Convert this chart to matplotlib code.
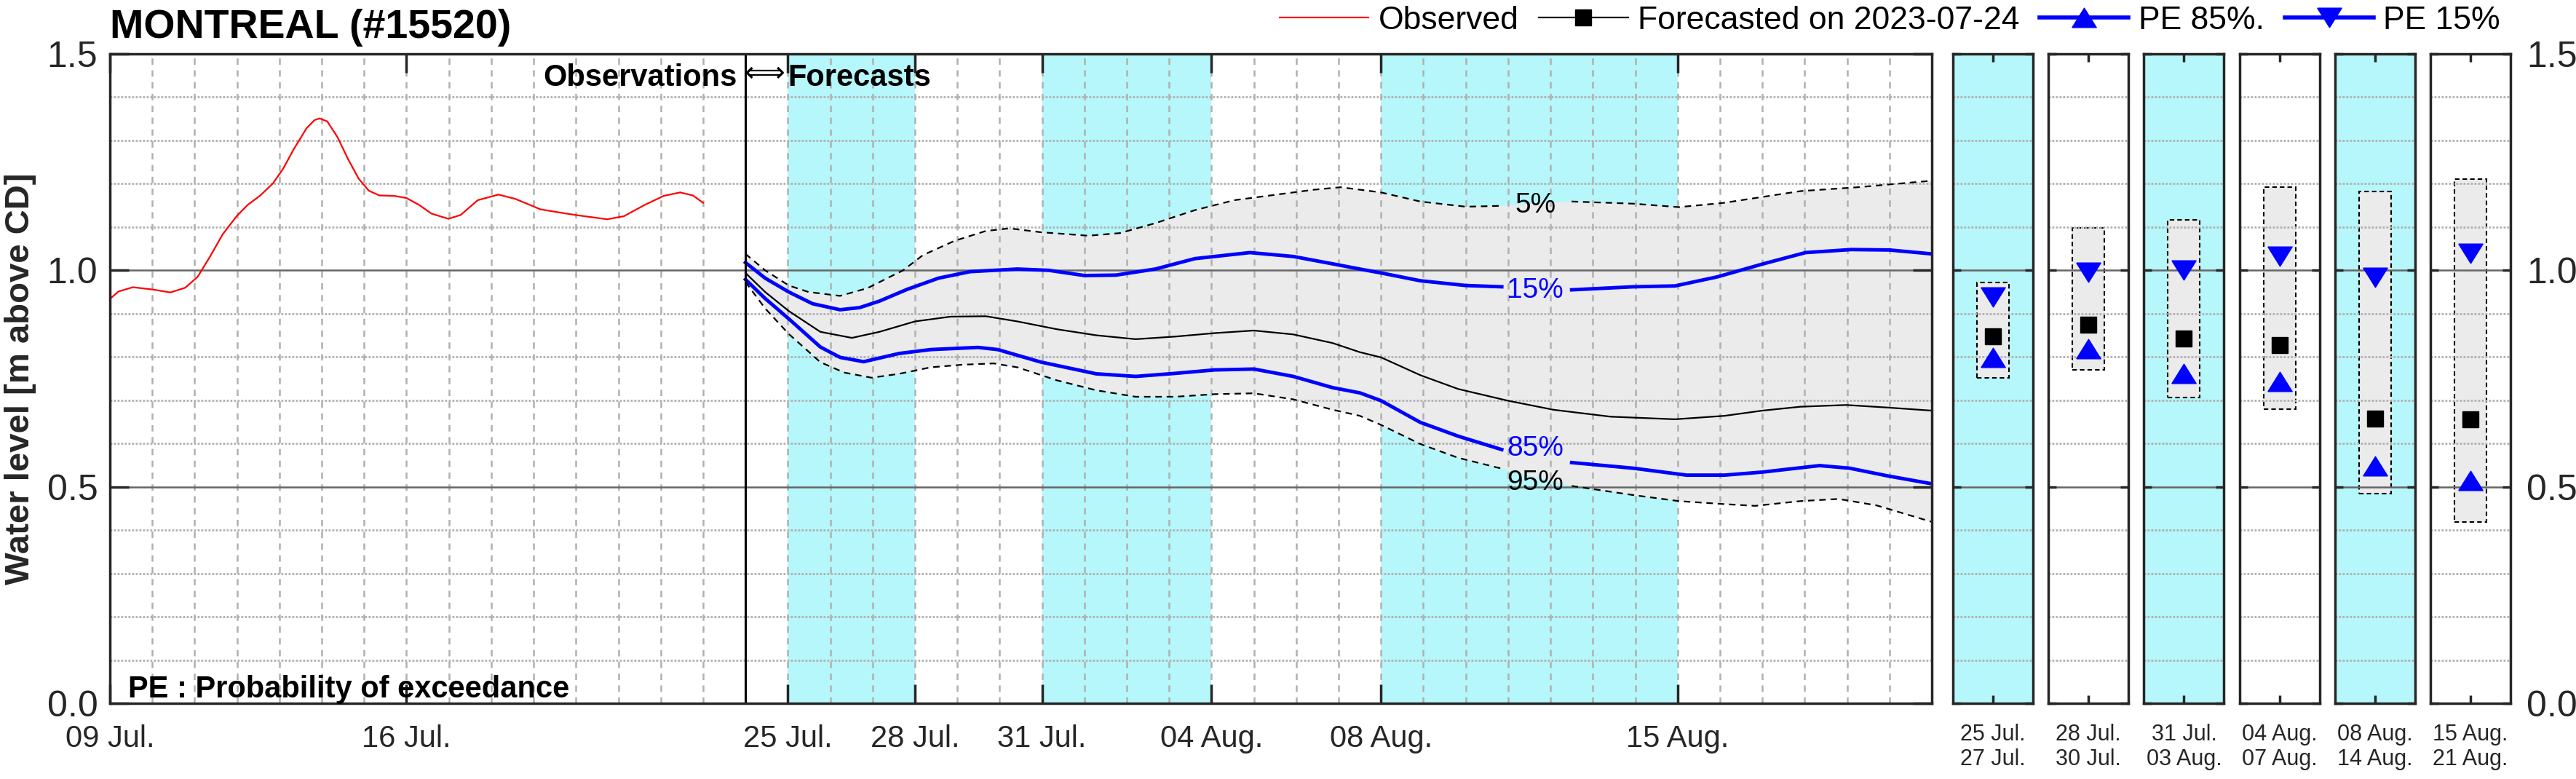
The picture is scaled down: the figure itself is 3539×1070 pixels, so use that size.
import numpy as np
import matplotlib
matplotlib.use('Agg')
import matplotlib.pyplot as plt
from matplotlib.lines import Line2D
from matplotlib.path import Path
from matplotlib.ticker import MultipleLocator, FixedLocator

plt.rcParams['font.family'] = ['Liberation Sans', 'DejaVu Sans']

# ---- data ----
start_date = '2023-07-09'
forecast_date = '2023-07-24'
end_date = '2023-08-21'

# observed water level, days after 09 Jul.
obs_day = [0, 0.2, 0.54, 0.99, 1.43, 1.78, 2.07, 2.37, 2.66, 2.99, 3.25, 3.55, 3.85, 4.09,
           4.34, 4.64, 4.83, 4.95, 5.13, 5.37, 5.62, 5.87, 6.11, 6.36, 6.71, 7.0, 7.30, 7.59,
           7.99, 8.28, 8.68, 9.17, 9.57, 10.16, 10.65, 11.05, 11.74, 12.13, 12.62, 13.07,
           13.46, 13.76, 14.0]
obs_val = [0.934, 0.951, 0.961, 0.956, 0.949, 0.960, 0.985, 1.033, 1.083, 1.125, 1.151, 1.173,
           1.201, 1.235, 1.280, 1.328, 1.347, 1.351, 1.344, 1.308, 1.257, 1.212, 1.184, 1.173,
           1.172, 1.167, 1.151, 1.131, 1.119, 1.128, 1.162, 1.175, 1.165, 1.141, 1.133, 1.127,
           1.118, 1.125, 1.151, 1.172, 1.180, 1.173, 1.156]

# forecast percentiles, days after 24 Jul.
f5 = [0, 0.465, 1.023, 1.488, 2.233, 2.884, 3.349, 3.721, 4.186, 4.930, 5.674, 6.233, 6.977,
      8.093, 8.837, 9.674, 10.605, 11.535, 12.465, 13.395, 14.047, 15.0, 15.925, 17.0, 17.85,
      19.5, 20.95, 22.03, 23.1, 24.9, 26.25, 28.0]
v5 = [1.038, 1.000, 0.965, 0.950, 0.941, 0.959, 0.982, 1.000, 1.035, 1.068, 1.091, 1.097, 1.088,
      1.080, 1.086, 1.109, 1.139, 1.162, 1.174, 1.186, 1.192, 1.180, 1.159, 1.147, 1.149,
      1.159, 1.154, 1.146, 1.156, 1.183, 1.192, 1.207]

f15 = [0, 0.465, 1.023, 1.581, 2.233, 2.698, 3.163, 3.814, 4.558, 5.302, 6.419, 7.163, 8.0,
       8.744, 9.674, 10.605, 11.907, 12.93, 13.86, 14.5, 15.0, 15.925, 17.0, 17.85, 19.5,
       20.95, 21.94, 22.94, 24.02, 25.02, 26.1, 27.0, 28.0]
v15 = [1.018, 0.982, 0.950, 0.923, 0.909, 0.914, 0.929, 0.956, 0.982, 0.997, 1.003, 1.000, 0.988,
       0.989, 1.003, 1.027, 1.041, 1.032, 1.015, 1.003, 0.994, 0.976, 0.965, 0.962, 0.955,
       0.962, 0.964, 0.985, 1.015, 1.041, 1.048, 1.047, 1.038]

f50 = [0, 0.465, 1.023, 1.767, 2.512, 3.163, 4.0, 4.837, 5.674, 6.419, 7.349, 8.279, 9.209,
       10.14, 11.07, 12.0, 12.93, 13.86, 14.5, 15.0, 15.925, 16.82, 17.99, 19.07, 20.42,
       21.94, 23.11, 24.0, 24.9, 25.98, 26.97, 28.0]
v50 = [0.994, 0.950, 0.906, 0.858, 0.844, 0.858, 0.882, 0.893, 0.894, 0.882, 0.864, 0.850, 0.841,
       0.847, 0.855, 0.861, 0.852, 0.832, 0.811, 0.799, 0.758, 0.726, 0.699, 0.678, 0.662,
       0.656, 0.664, 0.676, 0.685, 0.689, 0.683, 0.676]

f85 = [0, 0.465, 1.023, 1.767, 2.233, 2.791, 3.628, 4.372, 5.488, 5.953, 6.977, 8.279, 9.209,
       10.14, 11.07, 12.0, 12.93, 13.86, 14.5, 15.0, 15.925, 16.82, 17.85, 19.5, 20.95, 22.21,
       23.11, 24.0, 25.35, 26.06, 26.97, 28.0]
v85 = [0.979, 0.935, 0.888, 0.823, 0.799, 0.789, 0.808, 0.817, 0.822, 0.817, 0.788, 0.761, 0.755,
       0.762, 0.770, 0.772, 0.755, 0.729, 0.717, 0.699, 0.649, 0.617, 0.586, 0.556, 0.543, 0.527,
       0.527, 0.534, 0.549, 0.543, 0.525, 0.507]

f95 = [0, 0.465, 1.023, 1.767, 2.326, 2.977, 3.628, 4.372, 5.116, 5.860, 6.419, 7.349, 8.279,
       9.209, 10.14, 11.07, 12.0, 12.93, 13.86, 14.5, 15.0, 15.925, 16.82, 17.85, 19.5, 20.95,
       22.03, 23.11, 23.83, 24.9, 25.8, 26.7, 28.0]
v95 = [0.973, 0.912, 0.853, 0.788, 0.764, 0.752, 0.761, 0.776, 0.782, 0.785, 0.776, 0.746, 0.723,
       0.708, 0.708, 0.714, 0.716, 0.702, 0.678, 0.664, 0.643, 0.599, 0.567, 0.542, 0.502, 0.481,
       0.467, 0.460, 0.456, 0.467, 0.472, 0.457, 0.419]

# contour-style labels (forecast day, value) and the gap they cut in the lines
pct_labels = ['5%', '15%', '85%', '95%']
pct_label_day = [18.64, 18.64, 18.64, 18.64]
pct_label_val = [1.150, 0.953, 0.588, 0.510]
label_gap = (17.85, 19.5)

tick_dates = ['2023-07-09', '2023-07-16', '2023-07-25', '2023-07-28', '2023-07-31',
              '2023-08-04', '2023-08-08', '2023-08-15']
tick_labels = ['09 Jul.', '16 Jul.', '25 Jul.', '28 Jul.', '31 Jul.', '04 Aug.', '08 Aug.', '15 Aug.']
band_dates = [('2023-07-25', '2023-07-28'), ('2023-07-31', '2023-08-04'), ('2023-08-08', '2023-08-15')]

# weekly summary panels
panel_labels = ['25 Jul.\n27 Jul.', '28 Jul.\n30 Jul.', '31 Jul.\n03 Aug.',
                '04 Aug.\n07 Aug.', '08 Aug.\n14 Aug.', '15 Aug.\n21 Aug.']
panel_p5 = [0.972, 1.098, 1.116, 1.192, 1.182, 1.211]
panel_p15 = [0.939, 0.995, 1.001, 1.033, 0.983, 1.040]
panel_p50 = [0.848, 0.874, 0.843, 0.828, 0.658, 0.656]
panel_p85 = [0.798, 0.819, 0.762, 0.743, 0.548, 0.515]
panel_p95 = [0.752, 0.770, 0.707, 0.680, 0.484, 0.419]
panel_shaded = [True, False, True, False, True, False]

# ---- helpers ----
t0 = np.datetime64(start_date, 'D')
def day(d):
    return float((np.datetime64(d, 'D') - t0).astype(int))

fc0 = day(forecast_date)
CYAN = '#b5f7fa'
GRAY = '#ebebeb'
GRID = '#b0b0b0'
DARK = '#262626'

up_tri = Path([(-1, -0.8), (1, -0.8), (0, 0.8), (-1, -0.8)])
down_tri = Path([(-1, 0.8), (1, 0.8), (0, -0.8), (-1, 0.8)])

W, H = 3539, 1070
fig = plt.figure(figsize=(W / 100, H / 100), dpi=100)
ax_bottom = 1 - 966 / H
ax_height = 892 / H


def style_grid(a, xgrid=True):
    a.yaxis.set_minor_locator(MultipleLocator(0.1))
    a.yaxis.grid(True, which='minor', color=GRID, lw=2, ls=(0, (1.0, 0.8)), zorder=0.5)
    a.yaxis.grid(True, which='major', color='#666666', lw=1.8, ls='-', zorder=0.5)
    if xgrid:
        a.xaxis.set_minor_locator(MultipleLocator(1))
        a.xaxis.grid(True, which='both', color=GRID, lw=1.8, ls=(0, (3.5, 3)), zorder=0.5)
    a.set_axisbelow(True)
    for s in a.spines.values():
        s.set_linewidth(2.5)
        s.set_color(DARK)
        s.set_zorder(5)


# ---- main axes ----
ax = fig.add_axes([151 / W, ax_bottom, 2503 / W, ax_height])
ax.set_xlim(0, day(end_date))
ax.set_ylim(0, 1.5)

for a0, a1 in band_dates:
    ax.axvspan(day(a0), day(a1), color=CYAN, lw=0, zorder=0.1)

x5 = fc0 + np.array(f5)
x95 = fc0 + np.array(f95)
ax.fill(np.concatenate([x5, x95[::-1]]), np.concatenate([v5, v95[::-1]]),
        color=GRAY, lw=0, zorder=0.2)

ax.plot(obs_day, obs_val, color='red', lw=1.6, zorder=3)


def plot_gapped(f, v, **kw):
    f = np.array(f)
    v = np.array(v)
    left = f <= label_gap[0]
    right = f >= label_gap[1]
    ax.plot(fc0 + f[left], v[left], **kw)
    ax.plot(fc0 + f[right], v[right], **kw)


plot_gapped(f5, v5, color='k', lw=1.6, ls=(0, (4, 3)), zorder=3)
plot_gapped(f95, v95, color='k', lw=1.6, ls=(0, (4, 3)), zorder=3)
ax.plot(fc0 + np.array(f50), v50, color='k', lw=1.6, zorder=3)
plot_gapped(f15, v15, color='blue', lw=3.5, zorder=4)
plot_gapped(f85, v85, color='blue', lw=3.5, zorder=4)

for lab, d, v in zip(pct_labels, pct_label_day, pct_label_val):
    c = 'blue' if lab in ('15%', '85%') else 'black'
    ax.text(fc0 + d, v, lab, color=c, fontsize=28, ha='center', va='center', zorder=6)

ax.axvline(fc0, color='k', lw=2.2, zorder=4)

ax.text(fc0 - 0.2, 1.426, 'Observations', fontsize=30, fontweight='bold', ha='right', va='baseline', zorder=6)
ax.text(fc0 + 0.45, 1.436, '\u27fa', fontsize=28, ha='center', va='baseline', zorder=6,
        family=['DejaVu Sans'])
ax.text(fc0 + 1.0, 1.426, 'Forecasts', fontsize=30, fontweight='bold', ha='left', va='baseline', zorder=6)
ax.text(0.43, 0.014, 'PE : Probability of exceedance', fontsize=30, fontweight='bold',
        ha='left', va='baseline', zorder=6)

style_grid(ax)
ax.xaxis.set_major_locator(FixedLocator([day(d) for d in tick_dates]))
ax.set_xticklabels(tick_labels)
ax.set_yticks([0, 0.5, 1.0, 1.5])
ax.set_yticklabels(['0.0', '0.5', '1.0', '1.5'])
ax.tick_params(which='minor', length=0)
ax.tick_params(axis='both', which='major', direction='in', length=19, width=2.5, color=DARK,
               top=True, right=True)
ax.tick_params(axis='x', labelsize=30, pad=21, labelcolor='#262626')
ax.tick_params(axis='y', labelsize=36, pad=12, labelcolor='#262626')

# ---- weekly panels ----
for i in range(6):
    pax = fig.add_axes([(2683 + i * 131.2) / W, ax_bottom, 110 / W, ax_height])
    pax.set_xlim(0, 1)
    pax.set_ylim(0, 1.5)
    if panel_shaded[i]:
        pax.set_facecolor(CYAN)
    pax.bar(0.5, panel_p5[i] - panel_p95[i], bottom=panel_p95[i], width=0.4, color=GRAY,
            edgecolor='k', ls=(0, (3, 2)), lw=1.5, zorder=0.2)
    pax.plot([0.5], [panel_p50[i]], ls='none', marker='s', ms=16, color='k', zorder=4)
    pax.plot([0.5], [panel_p85[i]], ls='none', marker=up_tri, ms=24, color='blue', zorder=4)
    pax.plot([0.5], [panel_p15[i]], ls='none', marker=down_tri, ms=24, color='blue', zorder=4)
    style_grid(pax, xgrid=False)
    pax.set_xticks([0.5])
    pax.set_xticklabels([panel_labels[i]])
    pax.set_yticks([0, 0.5, 1.0, 1.5])
    pax.tick_params(which='minor', length=0)
    pax.tick_params(axis='both', which='major', direction='in', length=8, width=2.5, color=DARK,
                    top=True, right=True, labelleft=False)
    pax.tick_params(axis='x', labelsize=22, pad=20, labelcolor='#262626')
    if i == 5:
        pax.set_yticklabels(['0.0', '0.5', '1.0', '1.5'])
        pax.tick_params(axis='y', labelright=True, labelsize=36, pad=16, labelcolor='#262626')

# ---- title, ylabel, legend ----
fig.text(151 / W, 1 - 52 / H, 'MONTREAL (#15520)', fontsize=40, fontweight='bold',
         ha='left', va='baseline')
fig.text(6 / W, 1 - 520 / H, 'Water level [m above CD]', fontsize=34, fontweight='bold',
         rotation=90, ha='left', va='center', color='#262626')

handles = [Line2D([], [], color='red', lw=1.6),
           Line2D([], [], color='k', lw=1.6, marker='s', ms=16),
           Line2D([], [], color='blue', lw=4, marker=up_tri, ms=24),
           Line2D([], [], color='blue', lw=4, marker=down_tri, ms=24)]
labels = ['Observed', 'Forecasted on 2023-07-24', 'PE 85%.', 'PE 15%']
fig.legend(handles, labels, loc='center right', bbox_to_anchor=(3435 / W, 1 - 28 / H), ncol=4,
           frameon=False, fontsize=32, handlelength=2.75, handletextpad=0.3,
           columnspacing=0.63, borderpad=0, borderaxespad=0)

fig.savefig('out.png', dpi=100)
